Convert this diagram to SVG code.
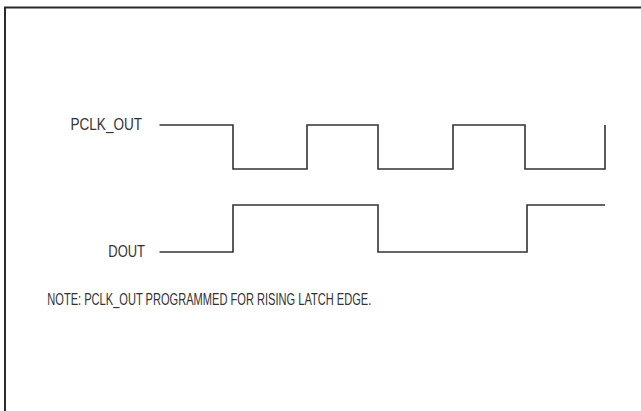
<svg xmlns="http://www.w3.org/2000/svg" width="641" height="411" viewBox="0 0 641 411">
<style>
.frame{fill:none;stroke:#2a2a2a;stroke-width:2}
.sig{fill:none;stroke:#333;stroke-width:1.6}
.lbl{font-family:"Liberation Sans",Arial,sans-serif;font-size:17px;fill:#333}
</style>
<rect width="641" height="411" fill="#fff"/>
<path class="frame" d="M5,412 V7.5 H642"/>
<g id="pclk_out">
<text class="lbl" x="70.5" y="129.5" textLength="71.5" lengthAdjust="spacingAndGlyphs">PCLK_OUT</text>
<path class="sig" d="M159.5,125 H233 V169 H307 V125 H378 V169 H453 V125 H525 V169 H605 V125"/>
</g>
<g id="dout">
<text class="lbl" x="108.3" y="256.5" textLength="36.7" lengthAdjust="spacingAndGlyphs">DOUT</text>
<path class="sig" d="M159.5,252 H233 V205 H378 V252 H527 V205 H605"/>
</g>
<g id="note">
<text class="lbl" x="47.3" y="305" textLength="324" lengthAdjust="spacingAndGlyphs">NOTE: PCLK_OUT PROGRAMMED FOR RISING LATCH EDGE.</text>
</g>
</svg>
